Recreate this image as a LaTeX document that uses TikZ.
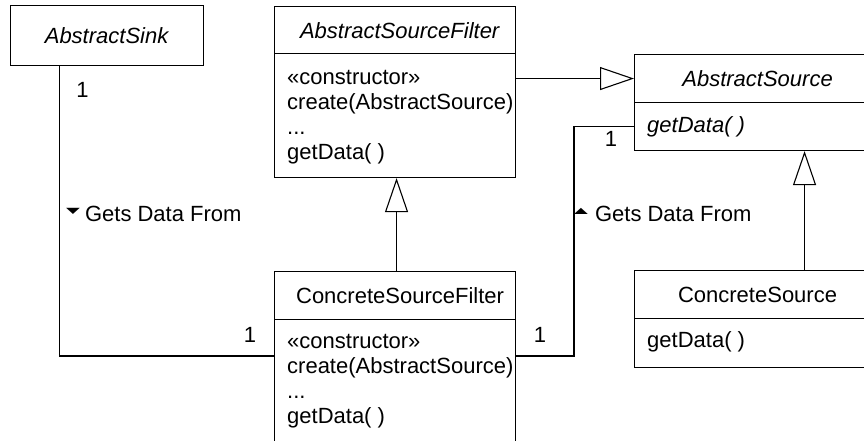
\documentclass[tikz,border=0pt]{standalone}
\usepackage{fontspec}
\usepackage{graphicx}
\setmainfont{Liberation Sans}
\newfontfamily\symfont{DejaVu Sans}
\usetikzlibrary{arrows.meta}

\newcommand\umlfont{\fontsize{22}{25}\selectfont}
% small flattened direction marks for the association role names
\newcommand\roledown{{\symfont\fontsize{18}{18}\selectfont\raisebox{8pt}{\scalebox{1}[0.45]{▼}}}}
\newcommand\roleup{{\symfont\fontsize{18}{18}\selectfont\raisebox{8pt}{\scalebox{1}[0.45]{▲}}}}

\tikzset{
  headbox/.style={draw, line width=1.1pt, inner sep=0pt, anchor=north west,
                  font=\umlfont, text depth=0pt},
  bodybox/.style={draw, line width=1.1pt, inner sep=0pt, anchor=north west},
  ops/.style={inner sep=0pt, anchor=north west, align=left, font=\umlfont},
  mult/.style={inner sep=0pt, font=\umlfont, text depth=0pt},
  role/.style={inner sep=0pt, anchor=base west, font=\umlfont},
  assoc/.style={line width=1.1pt},
  gen/.style={line width=1.1pt,
              -{Triangle[open, length=34pt, width=23pt, line width=1.1pt]}},
}

\begin{document}
\begin{tikzpicture}[x=1pt, y=-1pt]
\useasboundingbox (0,0) rectangle (864,441);
\fill[white] (0,0) rectangle (864,441);
\clip (0,0) rectangle (864,441);

% AbstractSink
\node[headbox, minimum width=193pt, minimum height=60pt] (sink) at (10,5)
  {\textit{AbstractSink}};

% AbstractSourceFilter
\node[headbox, minimum width=241pt, minimum height=47pt] (asf-head) at (274,6)
  {\hspace*{10pt}\textit{AbstractSourceFilter}};
\node[bodybox, minimum width=241pt, minimum height=124pt] (asf-body) at (274,53) {};
\node[ops] (asf-ops) at (287,66.5)
  {\strut«constructor»\\create(AbstractSource)\\...\\getData( )};

% AbstractSource
\node[headbox, minimum width=246pt, minimum height=48pt] (as-head) at (634,54)
  {\textit{AbstractSource}};
\node[bodybox, minimum width=246pt, minimum height=48pt] (as-body) at (634,102) {};
\node[ops] (as-ops) at (647,114.5) {\strut\textit{getData( )}};

% ConcreteSourceFilter
\node[headbox, minimum width=241pt, minimum height=48pt] (csf-head) at (274,271)
  {\hspace*{10pt}ConcreteSourceFilter};
\node[bodybox, minimum width=241pt, minimum height=150pt] (csf-body) at (274,319) {};
\node[ops] (csf-ops) at (287,330.5)
  {\strut«constructor»\\create(AbstractSource)\\...\\getData( )};

% ConcreteSource
\node[headbox, minimum width=246pt, minimum height=48pt] (cs-head) at (634,270)
  {ConcreteSource};
\node[bodybox, minimum width=246pt, minimum height=49pt] (cs-body) at (634,318) {};
\node[ops] (cs-ops) at (647,329.5) {\strut getData( )};

% generalizations
\draw[gen] (asf-body.east |- as-head.west) -- (as-head.west);
\draw[gen] ([xshift=1.5pt]csf-head.north) -- ([xshift=1.5pt]asf-body.south);
\draw[gen] ([xshift=47pt]cs-head.north) -- ([xshift=47pt]as-body.south);

% associations
\draw[assoc] ([xshift=-47.5pt]sink.south) |- (csf-body.west |- 0,356);
\draw[assoc] (as-body.west) -- ++(-60,0) |- (csf-body.east |- 0,356);

% multiplicities
\node[mult] (m-sink) at (82.5,90) {1};
\node[mult] (m-as) at (611,139) {1};
\node[mult] (m-csf-l) at (250,335) {1};
\node[mult] (m-csf-r) at (540,335) {1};

% role names
\node[role] (r-left) at (66,221) {\roledown\hspace{5pt}Gets Data From};
\node[role] (r-right) at (574,221) {\roleup\hspace{7pt}Gets Data From};
\end{tikzpicture}
\end{document}
